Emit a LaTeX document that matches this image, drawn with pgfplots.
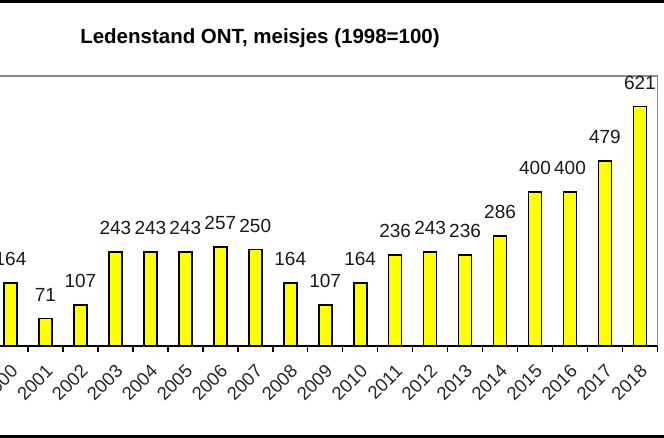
\documentclass[border=0pt]{standalone}
\usepackage{pgfplots}
\pgfplotsset{compat=1.18}
\usepackage{fontspec}
\setmainfont{Liberation Sans}
\definecolor{baryellow}{HTML}{FFFF00}
\definecolor{framegray}{HTML}{8A8A8A}
\begin{document}
\begin{tikzpicture}
\begin{axis}[
  at={(0,0)}, anchor=south west,
  scale only axis, width=664.4bp, height=270bp,
  xmin=-0.5, xmax=18.5, ymin=0, ymax=700,
  axis x line*=bottom, axis y line=none,
  x axis line style={-, black, line width=1.5bp},
  ybar, bar width=13bp,
  xtick={0,...,18},
  xticklabels={2000,2001,2002,2003,2004,2005,2006,2007,2008,2009,2010,2011,2012,2013,2014,2015,2016,2017,2018},
  major tick length=0pt,
  minor xtick={-0.5,0.5,...,18.5},
  minor tick length=6bp,
  xtick align=outside,
  minor tick style={black, line width=1.5bp},
  xticklabel style={xshift=6.4bp, yshift=-19.5bp, rotate=45, anchor=east, font=\fontsize{18.5bp}{18.5bp}\selectfont, text=black!85},
  nodes near coords,
  /pgf/number format/assume math mode=true,
  every node near coord/.append style={font=\fontsize{19bp}{19bp}\selectfont, text=black!90, yshift=13bp},
  clip=false,
]
\addplot[fill=baryellow, draw=black, line width=1.7bp] coordinates {
  (0,164) (1,71) (2,107) (3,243) (4,243) (5,243) (6,257) (7,250) (8,164) (9,107)
  (10,164) (11,236) (12,243) (13,236) (14,286) (15,400) (16,400) (17,479) (18,621)
};
\draw[framegray, line width=1.3bp] (rel axis cs:0,1) -- (rel axis cs:1,1) -- (rel axis cs:1,0);
\end{axis}
\node[font=\bfseries\fontsize{20.5bp}{20.5bp}\selectfont, anchor=center] at (267bp,308bp) {Ledenstand ONT, meisjes (1998=100)};
\draw[black, line width=3bp] (0bp,344.5bp) -- (680bp,344.5bp);
\draw[black, line width=3bp] (0bp,-90.5bp) -- (680bp,-90.5bp);
\pgfresetboundingbox
\path[use as bounding box] (7bp,-92bp) rectangle (671bp,346bp);
\end{tikzpicture}
\end{document}
